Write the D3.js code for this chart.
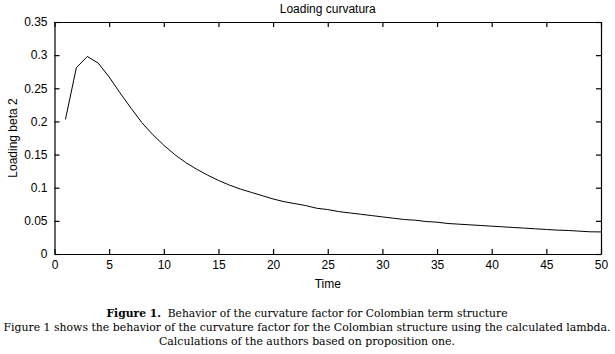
<!DOCTYPE html>
<html>
<head>
<meta charset="utf-8">
<script src="https://cdn.jsdelivr.net/npm/d3@7"></script>
<style>
    body { margin: 0; background: #fff; }
    svg { display: block; }
    .axis text { font-family: "Liberation Sans", Arial, sans-serif; font-size: 12px; fill: #000; }
    .caption { font-family: "DejaVu Serif Condensed", "DejaVu Serif", serif; font-stretch: condensed; font-size: 11.5px; fill: #000; }
</style>
</head>
<body>
<svg id="chart"></svg>
<script>
// time (years) and curvature loading
const times = [1, 2, 3, 4, 5, 6, 7, 8, 9, 10,
    11, 12, 13, 14, 15, 16, 17, 18, 19, 20,
    21, 22, 23, 24, 25, 26, 27, 28, 29, 30,
    31, 32, 33, 34, 35, 36, 37, 38, 39, 40,
    41, 42, 43, 44, 45, 46, 47, 48, 49, 50];
const loadings = [0.203, 0.281, 0.298, 0.288, 0.267, 0.243, 0.220, 0.198, 0.180, 0.164,
    0.150, 0.138, 0.128, 0.119, 0.111, 0.104, 0.098, 0.093, 0.088, 0.083,
    0.079, 0.076, 0.073, 0.069, 0.067, 0.064, 0.062, 0.060, 0.058, 0.056,
    0.054, 0.052, 0.051, 0.049, 0.048, 0.046, 0.045, 0.044, 0.043, 0.042,
    0.041, 0.040, 0.039, 0.038, 0.037, 0.036, 0.0355, 0.0345, 0.0335, 0.0333];
const xTicks = [0, 5, 10, 15, 20, 25, 30, 35, 40, 45, 50];
const yTicks = [0, 0.05, 0.1, 0.15, 0.2, 0.25, 0.3, 0.35];

const captionLines = [
    {bold: 'Figure 1.', text: '  Behavior of the curvature factor for Colombian term structure', y: 317, len: 401},
    {bold: '', text: 'Figure 1 shows the behavior of the curvature factor for the Colombian structure using the calculated lambda.', y: 331, len: 607},
    {bold: '', text: 'Calculations of the authors based on proposition one.', y: 345, len: 296}
];

const W = 615, H = 354;
const margin = {top: 22, right: 14, bottom: 100, left: 54.5};
const width = W - margin.left - margin.right;
const height = H - margin.top - margin.bottom;

const svg = d3.select('#chart')
    .attr('width', W)
    .attr('height', H);

const chart = svg.append('g')
    .attr('transform', `translate(${margin.left},${margin.top})`);

const xScale = d3.scaleLinear().domain([0, 50]).range([0, width]);
const yScale = d3.scaleLinear().domain([0, 0.35]).range([height, 0]);

const fmt = d => d3.format('~g')(d);

// axes with inward ticks on all four sides
chart.append('g')
    .attr('class', 'axis')
    .attr('transform', `translate(0,${height})`)
    .call(d3.axisBottom(xScale).tickValues(xTicks).tickFormat(fmt).tickSizeInner(-5).tickSizeOuter(0).tickPadding(6));

chart.append('g')
    .attr('class', 'axis')
    .call(d3.axisTop(xScale).tickValues(xTicks).tickFormat('').tickSizeInner(-5).tickSizeOuter(0));

chart.append('g')
    .attr('class', 'axis')
    .call(d3.axisLeft(yScale).tickValues(yTicks).tickFormat(fmt).tickSizeInner(-5).tickSizeOuter(0).tickPadding(7));

chart.append('g')
    .attr('class', 'axis')
    .attr('transform', `translate(${width},0)`)
    .call(d3.axisRight(yScale).tickValues(yTicks).tickFormat('').tickSizeInner(-5).tickSizeOuter(0));

chart.selectAll('.axis path, .axis line')
    .attr('stroke', '#000')
    .attr('stroke-width', 1.2);

const line = d3.line()
    .x((d, i) => xScale(times[i]))
    .y(d => yScale(d));

chart.append('path')
    .datum(loadings)
    .attr('fill', 'none')
    .attr('stroke', '#000')
    .attr('stroke-width', 1)
    .attr('d', line);

// titles
chart.append('text')
    .attr('x', width / 2)
    .attr('y', -9)
    .attr('text-anchor', 'middle')
    .style('font-family', '"Liberation Sans", Arial, sans-serif')
    .style('font-size', '12px')
    .text('Loading curvatura');

chart.append('text')
    .attr('x', width / 2)
    .attr('y', height + 34)
    .attr('text-anchor', 'middle')
    .style('font-family', '"Liberation Sans", Arial, sans-serif')
    .style('font-size', '12px')
    .text('Time');

chart.append('text')
    .attr('transform', `translate(${-38},${height / 2}) rotate(-90)`)
    .attr('text-anchor', 'middle')
    .style('font-family', '"Liberation Sans", Arial, sans-serif')
    .style('font-size', '12px')
    .text('Loading beta 2');

// caption below the figure
captionLines.forEach(c => {
    const t = svg.append('text')
        .attr('class', 'caption')
        .attr('x', 307 - c.len / 2)
        .attr('y', c.y)
        .attr('textLength', c.len)
        .attr('lengthAdjust', 'spacingAndGlyphs')
        .attr('xml:space', 'preserve');
    if (c.bold) {
        t.append('tspan').style('font-weight', 'bold').text(c.bold);
    }
    t.append('tspan').text(c.text);
});
</script>
</body>
</html>
